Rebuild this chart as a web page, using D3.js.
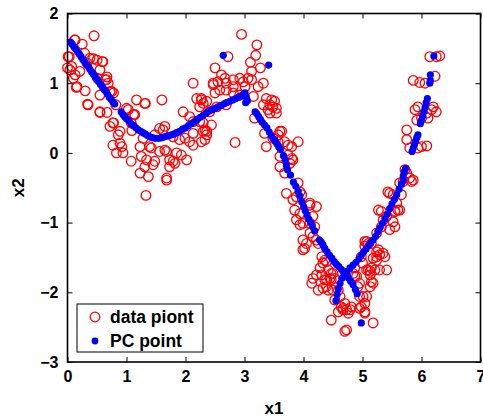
<!DOCTYPE html>
<html>
<head>
<meta charset="utf-8">
<script src="https://cdn.jsdelivr.net/npm/d3@7"></script>
<style>
  html, body { margin: 0; padding: 0; background: #fff; }
  svg text { font-family: "Liberation Sans", Arial, sans-serif; font-weight: bold; }
</style>
</head>
<body>
<div id="chart"></div>
<script>
// ==================== DATA ====================
const xTicks = [0, 1, 2, 3, 4, 5, 6, 7];
const yTicks = [-3, -2, -1, 0, 1, 2];
const legendLabels = ["data piont", "PC point"];

// red open circles (x1, x2)
const dataX = [
  0.45, 0.13, 0.25, 0.03, 0.00, 0.07, 0.29, 0.38, 0.44, 0.50, 0.59, 0.33, 0.13, 0.21, 0.16, 0.30,
  0.51, 0.64, 0.69, 0.55, 0.67, 0.72, 0.78, 0.34, 0.55, 0.67, 0.82, 0.78, 1.00, 1.17, 1.32, 1.12,
  0.89, 1.60, 1.09, 0.04, 0.15, 0.35, 0.55, 0.77, 0.72, 0.86, 0.89, 0.83, 0.94, 0.92, 1.08, 1.23,
  1.28, 1.14, 1.31, 1.03, 1.08, 1.39, 1.34, 1.23, 1.37, 1.31, 1.48, 1.56, 1.68, 1.73, 1.82, 1.68,
  1.85, 2.02, 1.79, 1.56, 1.62, 1.96, 2.13, 2.33, 2.13, 2.19, 2.27, 2.36, 2.33, 1.90, 1.33, 0.77,
  0.12, 0.01, 0.60, 0.10, 0.66, 0.75, 0.55,
  2.50, 2.58, 2.69, 2.81, 2.92, 2.47, 2.55, 2.53, 2.69, 2.41, 2.07, 2.13, 2.24, 2.30, 2.44, 2.30,
  2.36, 2.13, 2.07, 1.99, 1.65, 1.48, 1.42, 1.25, 1.45, 1.65, 1.79, 1.73, 1.93, 1.68, 2.84, 2.27,
  2.30, 2.24, 2.50, 2.47,
  2.95, 3.21, 3.19, 2.72, 3.10, 3.27, 3.12, 2.61, 2.67, 2.81, 2.92, 2.98, 3.06, 3.12, 3.32, 3.23,
  3.01, 2.81, 2.69, 3.15, 3.37, 3.46, 3.51, 3.43, 3.48, 3.54, 3.40, 3.32, 3.54, 3.17, 3.43, 3.34,
  3.60, 3.57, 3.63, 3.57, 3.68, 3.91, 3.80, 3.74, 3.37, 3.48, 2.36, 2.27,
  3.60, 3.74, 3.80, 3.82, 3.77, 3.60, 3.68, 3.71, 3.94, 3.97, 3.88,
  3.91, 3.82, 4.11, 4.22, 3.85, 3.94, 3.88, 3.94, 3.99, 4.11, 4.19, 4.11, 4.16, 3.99, 4.05, 4.02,
  4.25, 4.31, 4.36, 4.33, 4.39, 4.28, 4.16, 4.25, 4.39, 4.47, 4.53, 4.42, 4.50, 4.59, 4.42, 4.47,
  4.47, 4.70, 4.62, 4.64, 4.73, 4.70, 4.11, 4.16, 4.22, 3.99,
  4.22, 4.14, 4.31, 4.36, 4.45, 4.50, 4.33, 4.39, 4.53, 4.67, 4.79, 4.59, 4.81, 4.73, 4.95, 5.04,
  4.95, 5.07, 5.18, 5.04, 5.04, 5.10, 5.00, 5.10, 5.15, 5.13, 5.18, 5.13, 4.84, 4.87, 5.24, 5.27,
  5.27,
  5.46, 5.52, 5.43, 5.66, 5.63, 5.69, 5.83, 5.32, 5.41, 5.55, 5.60, 5.52, 5.55, 5.46, 5.32, 5.07,
  5.15, 5.04, 5.24, 5.29, 5.35, 5.38, 5.18, 5.24, 4.98, 5.07, 5.13, 5.21, 5.29, 5.41, 5.15, 4.90,
  4.95, 4.92, 4.87, 5.01, 4.98, 5.04, 4.76, 4.67,
  6.14, 6.25, 5.86, 5.97, 6.06, 6.23, 5.89, 5.94, 5.92, 6.00, 6.09, 6.17, 6.20, 6.25, 6.11, 5.75,
  5.75, 5.80, 6.00, 6.09, 5.94, 5.72, 5.75, 5.80, 5.86, 5.58, 5.63, 5.55, 5.35, 5.24, 6.31
];
const dataY = [
  1.68, 1.62, 1.56, 1.38, 1.22, 1.24, 1.43, 1.36, 1.35, 1.33, 1.31, 1.29, 1.12, 1.17, 0.95, 0.89,
  1.07, 1.05, 1.00, 1.19, 1.09, 0.88, 0.86, 0.70, 0.58, 0.58, 0.69, 0.43, 0.64, 0.76, 0.71, 0.55,
  0.31, 0.76, 0.32, 1.19, 0.94, 0.69, 0.59, 0.43, 0.38, 0.26, 0.14, 0.00, 0.00, 0.09, -0.12, 0.09,
  0.21, 0.55, 0.71, 0.62, 0.43, 0.09, -0.10, -0.29, -0.34, -0.20, -0.12, 0.02, 0.02, -0.10, -0.15, -0.39,
  0.00, -0.10, 0.23, 0.35, 0.33, 0.59, 0.11, 0.19, 1.00, 0.78, 0.76, 0.74, 0.33, 0.19, -0.61, 0.11,
  1.62, 1.38, 1.31, 1.07, 1.05, 0.88, 0.83,
  0.86, 0.90, 0.90, 0.86, 0.83, 1.00, 1.02, 0.66, 0.69, 0.59, 0.52, 0.45, 0.45, 0.43, 0.40, 0.31,
  0.26, 0.28, 0.16, 0.21, 0.38, 0.26, 0.07, -0.05, -0.17, 0.04, -0.12, -0.20, -0.03, -0.36, 0.15, 0.78,
  0.71, 0.66, 1.22, 0.98,
  1.70, 1.55, 1.40, 1.38, 1.30, 1.22, 1.17, 1.12, 1.07, 1.05, 1.07, 1.02, 1.07, 1.05, 1.00, 0.95,
  0.95, 0.95, 1.00, 0.81, 0.78, 0.76, 0.74, 0.69, 0.66, 0.64, 0.62, 0.69, 0.57, 0.50, 0.57, 0.28,
  0.31, 0.26, 0.31, 0.16, 0.16, 0.16, 0.09, 0.11, 0.09, 0.21, 0.31, 0.16,
  -0.05, -0.03, -0.08, -0.10, -0.15, -0.20, -0.29, -0.58, -0.56, -0.60, -0.63,
  -0.43, -0.67, -0.75, -0.77, -0.82, -0.87, -0.96, -1.03, -1.01, -1.01, -1.06, -1.15, -1.20, -1.25, -1.30, -1.37,
  -1.30, -1.49, -1.54, -1.58, -1.56, -1.65, -1.80, -1.97, -1.82, -1.82, -1.80, -1.97, -1.97, -1.97, -1.68, -1.73,
  -2.40, -2.56, -2.06, -2.21, -2.25, -2.16, -0.72, -0.91, -1.25, -1.39,
  -1.75, -1.87, -1.75, -1.82, -1.80, -1.73, -1.94, -1.92, -2.11, -2.23, -2.25, -2.28, -2.21, -2.54, -2.23, -2.30,
  -2.06, -2.06, -2.44, -2.16, -1.27, -1.30, -1.58, -1.68, -1.65, -1.75, -1.87, -1.92, -1.73, -1.77, -1.49, -1.39,
  -0.82,
  -0.58, -0.60, -0.56, -0.60, -0.43, -0.41, -0.41, -0.84, -0.91, -0.84, -0.82, -0.99, -1.06, -1.10, -1.06, -1.27,
  -1.30, -1.34, -1.42, -1.46, -1.44, -1.49, -1.51, -1.54, -1.49, -1.68, -1.70, -1.68, -1.68, -1.68, -1.85, -1.77,
  -1.87, -1.92, -1.65, -2.06, -2.21, -2.28, -2.30, -2.25,
  1.38, 1.38, 1.04, 1.01, 1.00, 1.10, 0.62, 0.66, 0.47, 0.50, 0.57, 0.62, 0.66, 0.59, 0.50, 0.33,
  0.19, 0.07, 0.09, 0.10, 0.07, -0.24, -0.29, -0.36, -0.39, -0.72, -0.82, -0.84, -0.96, -1.15, 1.39
];

// blue filled principal-curve points (x1, x2)
const pcX = [
  0.05, 0.08, 0.11, 0.14, 0.17, 0.20, 0.23, 0.26, 0.29, 0.32, 0.35, 0.38, 0.41, 0.44, 0.47, 0.50,
  0.53, 0.56, 0.59, 0.62, 0.65, 0.68, 0.71, 0.74, 0.77, 0.80,
  0.91, 0.94, 0.97, 1.00, 1.04, 1.08, 1.12, 1.16, 1.20, 1.24, 1.28, 1.32, 1.36, 1.40, 1.44, 1.48,
  1.52, 1.56, 1.60, 1.64, 1.68, 1.72, 1.76, 1.80, 1.85, 1.90, 1.95, 2.00, 2.05, 2.10, 2.15, 2.20,
  2.25, 2.30, 2.35, 2.40, 2.45, 2.50, 2.55, 2.60, 2.65, 2.70, 2.75, 2.80, 2.85, 2.90, 2.94, 2.98,
  3.01, 3.03, 3.05, 3.02,
  3.18, 3.21, 3.24, 3.27, 3.30, 3.34, 3.38, 3.42, 3.46, 3.49, 3.52, 3.55, 3.58, 3.61,
  3.66, 3.69, 3.71, 3.73, 3.78, 3.83, 3.87, 3.91, 3.94, 3.97, 4.00, 4.03, 4.06, 4.09, 4.12, 4.15, 4.19,
  4.27, 4.30, 4.33, 4.36, 4.40, 4.44, 4.48, 4.52, 4.56, 4.60, 4.64, 4.68, 4.72, 4.76, 4.80, 4.84,
  4.88, 4.91,
  4.55, 4.57, 4.59, 4.62, 4.65, 4.69, 4.74, 4.79, 4.84, 4.89, 4.94, 4.98, 5.02, 5.06, 5.10, 5.14,
  5.18, 5.22, 5.26, 5.30, 5.34, 5.38, 5.42, 5.46, 5.50, 5.54, 5.58, 5.62, 5.66, 5.69,
  5.69, 5.71, 5.73,
  5.84, 5.86, 5.88, 5.90, 5.92, 5.94,
  5.98, 6.00, 6.02, 6.04, 6.06, 6.08, 6.10,
  6.14, 6.15, 6.15,
  2.64, 3.41, 4.98, 6.21
];
const pcY = [
  1.59, 1.56, 1.52, 1.49, 1.45, 1.42, 1.38, 1.34, 1.31, 1.27, 1.24, 1.20, 1.16, 1.13, 1.09, 1.06,
  1.02, 0.98, 0.95, 0.91, 0.88, 0.84, 0.80, 0.77, 0.73, 0.70,
  0.59, 0.55, 0.52, 0.49, 0.46, 0.42, 0.39, 0.36, 0.33, 0.31, 0.29, 0.27, 0.25, 0.23, 0.22, 0.21,
  0.21, 0.21, 0.22, 0.23, 0.24, 0.25, 0.26, 0.27, 0.29, 0.31, 0.34, 0.36, 0.39, 0.42, 0.45, 0.48,
  0.51, 0.54, 0.57, 0.60, 0.62, 0.64, 0.66, 0.68, 0.70, 0.72, 0.74, 0.76, 0.78, 0.80, 0.82, 0.84,
  0.86, 0.80, 0.75, 0.72,
  0.59, 0.56, 0.52, 0.48, 0.44, 0.40, 0.36, 0.30, 0.24, 0.20, 0.17, 0.13, 0.09, 0.05,
  -0.04, -0.10, -0.18, -0.24, -0.32, -0.42, -0.48, -0.55, -0.62, -0.70, -0.77, -0.83, -0.89, -0.95, -1.00, -1.05, -1.12,
  -1.25, -1.28, -1.32, -1.37, -1.42, -1.47, -1.51, -1.56, -1.60, -1.63, -1.67, -1.71, -1.75, -1.79, -1.84, -1.89,
  -1.96, -2.02,
  -2.12, -2.03, -1.95, -1.87, -1.80, -1.75, -1.70, -1.65, -1.61, -1.57, -1.52, -1.47, -1.42, -1.38, -1.33, -1.29,
  -1.25, -1.20, -1.13, -1.07, -1.01, -0.95, -0.88, -0.80, -0.73, -0.67, -0.60, -0.52, -0.45, -0.40,
  -0.33, -0.27, -0.22,
  0.02, 0.07, 0.12, 0.17, 0.22, 0.26,
  0.42, 0.47, 0.53, 0.59, 0.65, 0.72, 0.78,
  1.00, 1.04, 1.12,
  1.40, 1.26, -2.44, 1.39
];

const redPts = dataX.map((x, i) => ({ x, y: dataY[i] }));
const bluePts = pcX.map((x, i) => ({ x, y: pcY[i] }));

// ==================== LAYOUT ====================
const width = 483,
  height = 419;
const margin = { top: 13.5, right: 2.5, bottom: 57, left: 67.5 };
const innerW = width - margin.left - margin.right;
const innerH = height - margin.top - margin.bottom;

const svg = d3
  .select("#chart")
  .append("svg")
  .attr("width", width)
  .attr("height", height);

const g = svg
  .append("g")
  .attr("transform", `translate(${margin.left},${margin.top})`);

const x = d3.scaleLinear().domain([0, 7]).range([0, innerW]);
const y = d3.scaleLinear().domain([-3, 2]).range([innerH, 0]);

// ==================== MARKS ====================
g.append("g")
  .selectAll("circle")
  .data(redPts)
  .enter()
  .append("circle")
  .attr("cx", (d) => x(d.x))
  .attr("cy", (d) => y(d.y))
  .attr("r", 4.8)
  .attr("fill", "none")
  .attr("stroke", "#ff0000")
  .attr("stroke-width", 1.3);

g.append("g")
  .selectAll("circle")
  .data(bluePts)
  .enter()
  .append("circle")
  .attr("cx", (d) => x(d.x))
  .attr("cy", (d) => y(d.y))
  .attr("r", 3.6)
  .attr("fill", "#0000ff");

// ==================== AXES ====================
const tickLen = 5;
const styleAxis = (sel) => {
  sel.select(".domain").remove();
  sel.selectAll("line").attr("stroke", "#000").attr("stroke-width", 1);
  sel.selectAll("text").attr("font-size", 16).attr("fill", "#000");
};

g.append("g")
  .attr("transform", `translate(0,${innerH})`)
  .call(d3.axisBottom(x).tickValues(xTicks).tickSizeInner(-tickLen).tickSizeOuter(0).tickPadding(9).tickFormat(d3.format("d")))
  .call(styleAxis);
g.append("g")
  .call(d3.axisTop(x).tickValues(xTicks).tickSizeInner(-tickLen).tickSizeOuter(0).tickFormat(""))
  .call(styleAxis);
g.append("g")
  .call(d3.axisLeft(y).tickValues(yTicks).tickSizeInner(-tickLen).tickSizeOuter(0).tickPadding(9)
    .tickFormat((d) => (d < 0 ? "\u2212" + Math.abs(d) : d)))
  .call(styleAxis);
g.append("g")
  .attr("transform", `translate(${innerW},0)`)
  .call(d3.axisRight(y).tickValues(yTicks).tickSizeInner(-tickLen).tickSizeOuter(0).tickFormat(""))
  .call(styleAxis);

// frame
g.append("rect")
  .attr("width", innerW)
  .attr("height", innerH)
  .attr("fill", "none")
  .attr("stroke", "#000")
  .attr("stroke-width", 1.6);

// axis titles
svg.append("text")
  .attr("x", margin.left + innerW / 2)
  .attr("y", 414)
  .attr("text-anchor", "middle")
  .attr("font-size", 17)
  .text("x1");
svg.append("text")
  .attr("transform", `translate(24,${margin.top + innerH / 2}) rotate(-90)`)
  .attr("text-anchor", "middle")
  .attr("font-size", 17)
  .text("x2");

// ==================== LEGEND ====================
const lg = svg.append("g").attr("transform", "translate(77,304)");
lg.append("rect")
  .attr("width", 126)
  .attr("height", 48)
  .attr("fill", "#fff")
  .attr("stroke", "#000")
  .attr("stroke-width", 1);
lg.append("circle")
  .attr("cx", 18)
  .attr("cy", 13)
  .attr("r", 4.8)
  .attr("fill", "none")
  .attr("stroke", "#ff0000")
  .attr("stroke-width", 1.3);
lg.append("circle")
  .attr("cx", 18)
  .attr("cy", 37)
  .attr("r", 3.4)
  .attr("fill", "#0000ff");
lg.selectAll("text.lbl")
  .data(legendLabels)
  .enter()
  .append("text")
  .attr("class", "lbl")
  .attr("x", 33)
  .attr("y", (d, i) => 19 + i * 24)
  .attr("font-size", 17.5)
  .text((d) => d);
</script>
</body>
</html>
